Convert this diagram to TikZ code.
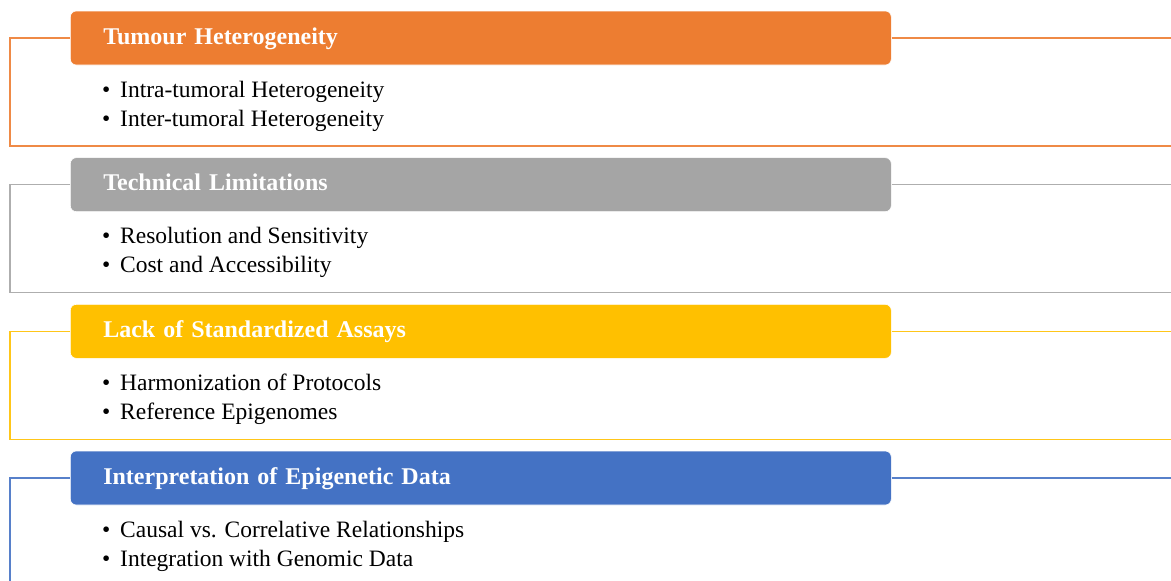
\documentclass[tikz,border=0pt]{standalone}
\usepackage{fontspec}
\setmainfont{Liberation Serif}
\usepackage{tikz}

\definecolor{orangeH}{HTML}{ED7D31}
\definecolor{grayH}{HTML}{A5A5A5}
\definecolor{yellowH}{HTML}{FFC000}
\definecolor{blueH}{HTML}{4472C4}

\tikzset{
  header/.style={draw=white, line width=0.6pt, fill=#1, rounded corners=6pt, anchor=west,
    minimum height=54pt, text width=755pt, inner xsep=33pt, inner ysep=0pt, align=left,
    text height=16pt, text depth=4pt,
    text=white, font=\fontsize{24}{28}\selectfont\bfseries},
  frame/.style={draw=#1!90!white, line width=1.6pt},
  items/.style={anchor=base west, inner sep=0pt, align=left,
    font=\fontsize{23.5}{29}\selectfont},
}
\newcommand{\itm}[1]{\makebox[18pt][l]{\textbullet}#1}

\begin{document}
\begin{tikzpicture}[x=1pt,y=-1pt]
  \useasboundingbox (0,0) rectangle (1171,581);

  \node[header=orangeH] (h1) at (70, 38) {Tumour Heterogeneity};
  \node[items] (l1) at (102, 126) {\itm{Intra-tumoral Heterogeneity}\\\itm{Inter-tumoral Heterogeneity}};
  \coordinate (a1) at (10, 38);
  \coordinate (b1) at (1175, 146);
  \coordinate (c1) at (1175, 38);
  \draw[frame=orangeH] (h1.west) -- (a1) |- (b1);
  \draw[frame=orangeH] (h1.east) -- (c1);

  \node[header=grayH] (h2) at (70, 184.67) {Technical Limitations};
  \node[items] (l2) at (102, 272.67) {\itm{Resolution and Sensitivity}\\\itm{Cost and Accessibility}};
  \coordinate (a2) at (10, 184.67);
  \coordinate (b2) at (1175, 292.67);
  \coordinate (c2) at (1175, 184.67);
  \draw[frame=grayH] (h2.west) -- (a2) |- (b2);
  \draw[frame=grayH] (h2.east) -- (c2);

  \node[header=yellowH] (h3) at (70, 331.33) {Lack of Standardized Assays};
  \node[items] (l3) at (102, 419.33) {\itm{Harmonization of Protocols}\\\itm{Reference Epigenomes}};
  \coordinate (a3) at (10, 331.33);
  \coordinate (b3) at (1175, 439.33);
  \coordinate (c3) at (1175, 331.33);
  \draw[frame=yellowH] (h3.west) -- (a3) |- (b3);
  \draw[frame=yellowH] (h3.east) -- (c3);

  \node[header=blueH] (h4) at (70, 478) {Interpretation of Epigenetic Data};
  \node[items] (l4) at (102, 566) {\itm{Causal vs. Correlative Relationships}\\\itm{Integration with Genomic Data}};
  \coordinate (a4) at (10, 478);
  \coordinate (b4) at (1175, 586);
  \coordinate (c4) at (1175, 478);
  \draw[frame=blueH] (h4.west) -- (a4) |- (b4);
  \draw[frame=blueH] (h4.east) -- (c4);
\end{tikzpicture}
\end{document}
